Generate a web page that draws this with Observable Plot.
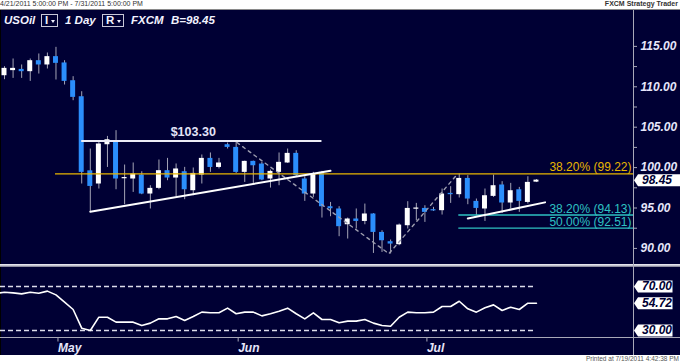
<!DOCTYPE html>
<html>
<head>
<meta charset="utf-8">
<script src="https://cdn.jsdelivr.net/npm/d3@7"></script>
<script src="https://cdn.jsdelivr.net/npm/@observablehq/plot@0.6"></script>
<style>
  html, body { margin: 0; padding: 0; background: #fff; }
  #wrap { position: relative; width: 680px; height: 363px; overflow: hidden; font-family: "Liberation Sans", Arial, sans-serif; }
  #top { position: absolute; left: 0; top: 0; width: 680px; height: 9px; background: #fff; border-bottom: 1px solid #8a8a8a; }
  #top .l { position: absolute; left: 0; top: 0px; font-size: 7px; line-height: 8px; color: #333; white-space: nowrap; }
  #top .r { position: absolute; right: 2px; top: 0px; font-size: 7px; line-height: 8px; font-weight: bold; color: #333; white-space: nowrap; }
  #main { position: absolute; left: 0; top: 10px; width: 680px; height: 345px; background: #000034; border-left: 1px solid #000; box-sizing: border-box; }
  #foot { position: absolute; left: 0; top: 355px; width: 680px; height: 8px; background: #fff; }
  #foot .r { position: absolute; right: 1px; top: 0px; font-size: 6.5px; line-height: 8px; color: #555; white-space: nowrap; }
  #price { position: absolute; left: 0; top: 10px; }
  #rsi { position: absolute; left: 0; top: 264px; }
  #sep { position: absolute; left: 0; top: 264px; width: 680px; height: 3px; background: linear-gradient(#e4e4ec 0 1px, #c4c4d0 1px 2px, #8e8ea0 2px 3px); }
  #base { position: absolute; left: 0; top: 337px; width: 680px; height: 1px; background: #a8a8b8; }
  #vax { position: absolute; left: 633px; top: 10px; width: 1px; height: 345px; background: #a8a8b8; }
  .hdr { position: absolute; top: 13px; font-size: 11.5px; line-height: 14px; font-weight: bold; font-style: italic; color: #f2f2ff; white-space: nowrap; }
  .btn { position: absolute; top: 14px; height: 11px; border: 1px solid #c8c8d8; box-sizing: content-box; }
  .btn span { position: absolute; left: 3px; top: -1px; font-size: 11.5px; line-height: 13px; font-weight: bold; color: #f2f2ff; }
  .btn i { position: absolute; right: 2px; top: 5px; width: 0; height: 0; border-left: 2.5px solid transparent; border-right: 2.5px solid transparent; border-top: 3px solid #f2f2ff; }
</style>
</head>
<body>
<div id="wrap">
  <div id="top"><div class="l">4/21/2011 5:00:00 PM - 7/31/2011 5:00:00 PM</div><div class="r">FXCM Strategy Trader</div></div>
  <div id="main"></div>
  <div id="sep"></div>
  <div id="base"></div>
  <div id="vax"></div>
  <div id="price"></div>
  <div id="rsi"></div>
  <div class="hdr" style="left:4px">USOil</div>
  <div class="btn" style="left:41px;width:15px"><span>I</span><i></i></div>
  <div class="hdr" style="left:65px">1 Day</div>
  <div class="btn" style="left:102px;width:20px"><span>R</span><i></i></div>
  <div class="hdr" style="left:131px">FXCM</div>
  <div class="hdr" style="left:171px">B=98.45</div>
  <div id="foot"><div class="r">Printed at 7/19/2011 4:42:38 PM</div></div>
</div>
<script>
// ---- data (daily candles 4/21/2011 .. 7/19/2011, index 0..62) ----
const opens  = [111.37,112.00,112.15,111.87,113.23,112.70,113.73,112.95,110.75,108.77,
                99.60,97.97,102.83,103.24,98.62,98.59,99.08,96.73,97.43,99.62,
                98.71,99.49,97.14,99.08,101.14,100.02,102.83,102.50,99.41,100.77,
                100.44,98.59,99.41,100.57,101.76,98.59,96.73,99.41,95.16,94.88,
                92.93,93.64,93.34,94.26,91.98,90.83,90.46,92.81,94.85,94.95,
                94.79,94.67,96.81,96.65,98.66,95.82,94.88,96.44,97.85,95.62,
                97.26,95.69,98.20];
const highs  = [112.49,113.44,112.70,113.44,114.06,114.18,114.88,113.23,111.25,109.39,
                102.30,103.33,103.86,104.57,100.32,100.57,99.49,97.76,100.94,101.14,
                100.45,100.03,99.95,101.56,101.81,101.14,103.04,103.24,100.80,100.80,
                100.65,99.70,101.81,102.30,102.09,98.87,99.41,99.53,95.69,95.16,
                93.76,94.88,95.49,94.30,92.19,91.04,93.02,95.78,95.57,95.28,
                95.08,97.35,97.64,99.21,99.00,96.11,97.35,99.08,98.26,98.05,
                97.55,98.87,98.52];
const lows   = [110.88,111.04,111.04,110.67,111.58,112.20,110.84,110.22,108.28,97.97,
                94.54,97.35,100.02,97.26,95.41,96.93,96.65,94.88,97.26,98.38,
                96.40,96.03,96.52,97.97,99.41,99.83,102.30,99.28,98.17,98.04,
                98.38,97.47,97.76,100.52,98.79,95.82,96.31,93.76,93.92,91.45,
                91.16,92.40,92.93,89.38,89.50,89.31,90.33,92.40,93.43,93.22,
                94.58,94.13,95.57,96.24,95.41,94.05,93.34,96.31,94.33,94.88,
                94.46,95.49,98.15];
const closes = [112.28,112.28,111.87,113.23,112.70,113.73,112.90,110.67,108.69,99.41,
                97.67,102.92,103.45,98.59,98.70,99.21,96.73,97.43,99.62,98.71,
                99.83,97.26,99.28,101.14,100.02,100.57,102.50,99.41,100.77,100.23,
                98.47,99.53,100.65,101.76,99.00,96.73,99.21,95.16,94.91,92.69,
                93.64,93.34,94.26,91.98,90.95,90.54,92.89,94.95,94.90,94.46,
                94.67,96.73,96.65,98.66,96.11,94.95,96.52,97.76,95.62,97.14,
                95.82,98.17,98.45];
// RSI, first value belongs to the day before index 0
const rsiValues = [63.7,
  64.8,64.2,63.3,64.8,63.9,65.8,62.4,55.8,49.1,32.1,
  30.0,42.1,42.1,37.6,37.6,37.6,34.5,36.7,40.6,40.6,
  42.7,39.1,42.7,46.7,46.1,46.1,50.3,45.2,46.7,46.7,
  43.3,45.2,47.6,50.3,45.2,40.6,46.1,40.0,40.0,37.0,
  38.5,38.5,40.0,36.7,34.5,33.9,42.1,46.7,46.1,46.1,
  46.7,51.8,51.8,56.6,49.7,46.7,50.6,53.3,48.2,51.2,
  49.1,54.8,54.72];
const rsiLevels = [70, 30];
const rsiTags = [70.00, 54.72, 30.00];
const priceTags = [98.45];
const priceTicks = [90, 95, 100, 105, 110, 115];
const priceMinorTicks = [92.5, 97.5, 102.5, 107.5, 112.5];
const monthNames = ["May", "Jun", "Jul"];
const monthIndex = [6, 27, 49];
// annotations (index, price)
const resistancePrice = 103.30, resistanceFrom = 9, resistanceTo = 37, resistanceLabelAt = 22;
const fibGold = [{pct: "38.20%", price: 99.22, from: 5.94}];
const fibTeal = [{pct: "38.20%", price: 94.13, from: 52.95}, {pct: "50.00%", price: 92.51, from: 52.95}];
const trendA = [{i: 10, p: 94.55}, {i: 38, p: 99.60}];
const trendB = [{i: 54, p: 93.70}, {i: 63, p: 95.70}];
const zigzag = [{i: 27.1, p: 103.1}, {i: 44.8, p: 89.35}, {i: 52.8, p: 99.2}];

// ---- build ----
const candles = opens.map((o, i) => ({i, o, h: highs[i], l: lows[i], c: closes[i]}));
const up = candles.filter(d => d.c >= d.o);
const down = candles.filter(d => d.c < d.o);
const rsi = rsiValues.map((v, k) => ({i: k - 1, v}));
const xDomain = [-0.466, 73.31];
const xMax = xDomain[1];
const lastIdx = candles.length - 1;
const bodyTop = d => (Math.abs(d.c - d.o) < 0.15 ? d.o + (d.c >= d.o ? 0.15 : -0.15) : d.c);

const NAVY = "#000034", BLUE = "#2b8efc", WICK = "#a4a4b6", GOLD = "#e8b600", TEAL = "#2ec2c2";
const FONT = "Liberation Sans, Arial, sans-serif";
const axisText = {fontSize: 12, fontWeight: "bold", fontStyle: "italic", fill: "#e6e6fa", stroke: "#a8a8b8"};

// arrow-shaped tag drawn as a custom dot symbol (tip at the axis)
const tagSymbol = w => ({draw(ctx) {
  ctx.moveTo(0.5, 0); ctx.lineTo(4.5, -6); ctx.lineTo(w, -6); ctx.lineTo(w, 6); ctx.lineTo(4.5, 6); ctx.closePath();
}});
const tagMarks = (values, w) => [
  Plot.dot(values, {y: d => d, frameAnchor: "right", symbol: tagSymbol(w), fill: "#ffffff", stroke: "none", r: 6}),
  Plot.text(values, {y: d => d, frameAnchor: "right", text: d => d.toFixed(2), textAnchor: "start", dx: 8.5,
    fill: NAVY, fontSize: 12, fontWeight: "bold", fontStyle: "italic"})
];

const price = Plot.plot({
  width: 680, height: 254,
  marginLeft: 0, marginRight: 47, marginTop: 0, marginBottom: 0,
  style: {background: "transparent", fontFamily: FONT, overflow: "visible"},
  x: {type: "linear", domain: xDomain, axis: null},
  y: {domain: [88.01, 119.44], range: [254, 0]},
  marks: [
    Plot.axisY([...priceTicks, ...priceMinorTicks], {anchor: "right", tickSize: 3, tickPadding: 4,
      tickFormat: d => (priceTicks.includes(d) ? d.toFixed(2) : ""), label: null, ...axisText}),
    Plot.ruleX(candles, {x: "i", y1: "l", y2: "h", stroke: WICK, strokeWidth: 1}),
    Plot.rect(up, {x1: d => d.i - 0.29, x2: d => d.i + 0.29, y1: "o", y2: bodyTop, fill: "#ffffff"}),
    Plot.rect(down, {x1: d => d.i - 0.29, x2: d => d.i + 0.29, y1: "o", y2: bodyTop, fill: BLUE}),
    Plot.ruleY(fibGold, {y: "price", x1: "from", x2: xMax, stroke: GOLD, strokeWidth: 1.4}),
    Plot.ruleY(fibTeal, {y: "price", x1: "from", x2: xMax, stroke: TEAL, strokeWidth: 1.4}),
    Plot.text(fibGold, {y: "price", text: d => `${d.pct} (${d.price.toFixed(2)})`, frameAnchor: "right",
      textAnchor: "end", dx: -2, dy: -6.5, fill: GOLD, fontSize: 12}),
    Plot.text(fibTeal, {y: "price", text: d => `${d.pct} (${d.price.toFixed(2)})`, frameAnchor: "right",
      textAnchor: "end", dx: -2, dy: -6, fill: TEAL, fontSize: 12}),
    Plot.ruleY([resistancePrice], {x1: resistanceFrom, x2: resistanceTo, stroke: "#ececf6", strokeWidth: 2}),
    Plot.text([resistancePrice], {x: resistanceLabelAt, y: d => d, text: d => "$" + d.toFixed(2), dy: -9,
      fill: "#e4e4f8", fontSize: 12.5, fontWeight: "bold"}),
    Plot.line(zigzag, {x: "i", y: "p", stroke: "#9c9cae", strokeWidth: 1.4, strokeDasharray: "3,4"}),
    Plot.line(trendA, {x: "i", y: "p", stroke: "#ffffff", strokeWidth: 2}),
    Plot.line(trendB, {x: "i", y: "p", stroke: "#ffffff", strokeWidth: 2}),
    ...tagMarks(priceTags, 47)
  ]
});
document.getElementById("price").appendChild(price);

const rsiPlot = Plot.plot({
  width: 680, height: 91,
  marginLeft: 0, marginRight: 47, marginTop: 0, marginBottom: 17.5,
  style: {background: "transparent", fontFamily: FONT, overflow: "visible"},
  x: {type: "linear", domain: xDomain, axis: null},
  y: {domain: [30, 70], range: [66, 22], axis: null},
  marks: [
    Plot.ruleY(rsiLevels, {x1: xDomain[0], x2: lastIdx, stroke: "#dcdcea", strokeWidth: 1.5, strokeDasharray: "5,3"}),
    Plot.line(rsi, {x: "i", y: "v", stroke: "#ffffff", strokeWidth: 1.6}),
    Plot.axisX(monthIndex, {anchor: "bottom", tickSize: 4, tickPadding: 1, textAnchor: "start", dx: 2,
      tickFormat: i => monthNames[monthIndex.indexOf(i)], label: null, ...axisText}),
    ...tagMarks(rsiTags, 39)
  ]
});
document.getElementById("rsi").appendChild(rsiPlot);
</script>
</body>
</html>
